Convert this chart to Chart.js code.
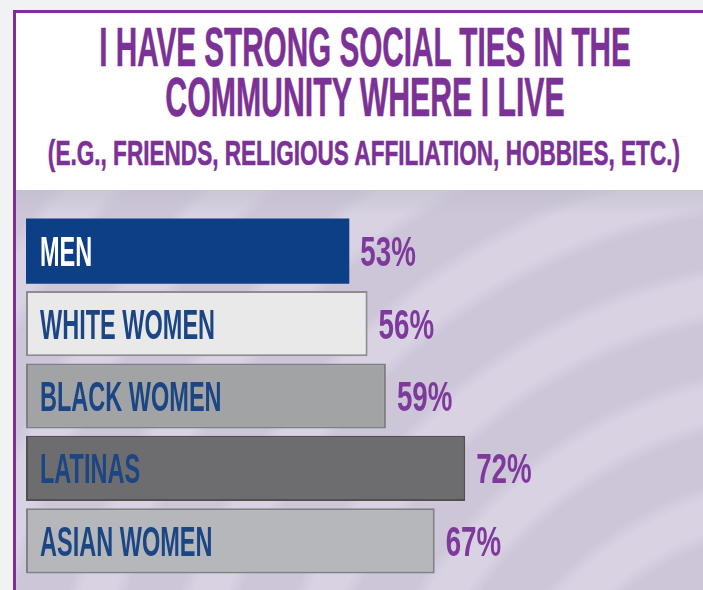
<!DOCTYPE html>
<html>
<head>
<meta charset="utf-8">
<title>Social ties in the community</title>
<script src="https://cdn.jsdelivr.net/npm/chart.js@4.4.1/dist/chart.umd.min.js"></script>
<style>
  html, body { margin: 0; width: 703px; height: 590px; overflow: hidden; background: #f1f2f4; }
  #card {
    position: absolute; left: 13px; top: 10px; width: 700px; height: 590px;
    border-left: 3px solid #7b3196; border-top: 3px solid #7b3196; background: #fff;
  }
  #band {
    position: absolute; left: 16px; top: 190px; width: 700px; height: 400px;
    background:
      linear-gradient(to bottom, rgba(190,188,200,0.55) 0px, rgba(190,188,200,0) 26px),
      repeating-radial-gradient(circle at 800px 640px,
        #d8d2e3 0px, #d8d2e3 30px, #cdc6d9 44px, #cdc6d9 92px, #d8d2e3 106px);
  }
  /* wide centred boxes so the squeezed lines stay centred on x = 365 */
  .head {
    position: absolute; left: -635px; width: 2000px; text-align: center; white-space: nowrap;
    font-family: "Liberation Sans", Arial, sans-serif; font-weight: bold; color: #7b3196;
    -webkit-text-stroke: 0.6px #7b3196;
    transform-origin: 1000px 0;
  }
  #l1 { top: 19px; font-size: 56px; line-height: 56px; transform: scaleX(0.53); }
  #l2 { top: 69px; font-size: 56px; line-height: 56px; transform: scaleX(0.54); }
  #l3 { top: 135px; font-size: 35px; line-height: 35px; transform: scaleX(0.645); transform-origin: 997px 0; }
  #chart { position: absolute; left: 0; top: 0; }
</style>
</head>
<body>
<div id="card"></div>
<div id="band"></div>
<div class="head" id="l1">I HAVE STRONG SOCIAL TIES IN THE</div>
<div class="head" id="l2">COMMUNITY WHERE I LIVE</div>
<div class="head" id="l3">(E.G., FRIENDS, RELIGIOUS AFFILIATION, HOBBIES, ETC.)</div>
<canvas id="chart" width="703" height="590"></canvas>
<script>
// survey groups and share who agree (%)
const groups = ['MEN', 'WHITE WOMEN', 'BLACK WOMEN', 'LATINAS', 'ASIAN WOMEN'];
const shares = [53, 56, 59, 72, 67];

// bar look per group
const fills = ['#0d3f86', '#e9e9ea', '#a2a3a5', '#6d6d6f', '#b5b7ba'];
const edges = ['#0d3f86', '#8d8d90', '#7e7f82', '#505053', '#808184'];
const nameColors = ['#ffffff', '#1b4583', '#1b4583', '#1b4583', '#1b4583'];

// condensed caption text: squeeze Liberation Sans horizontally
function squeezed(ctx, text, x, y, size, sx, color) {
    ctx.save();
    ctx.font = `bold ${size}px "Liberation Sans", Arial, sans-serif`;
    ctx.fillStyle = color;
    ctx.textBaseline = 'alphabetic';
    ctx.translate(x, y);
    ctx.scale(sx, 1);
    ctx.fillText(text, 0, 0);
    ctx.restore();
}

const barLabels = {
    id: 'barLabels',
    afterDatasetsDraw(chart) {
        const ctx = chart.ctx;
        const meta = chart.getDatasetMeta(0);
        meta.data.forEach((bar, i) => {
            squeezed(ctx, groups[i], bar.base + 14, bar.y + 15, 42, 0.56, nameColors[i]);
            squeezed(ctx, shares[i] + '%', bar.x + 11, bar.y + 15, 42, 0.66, '#7d3a9b');
        });
    }
};

new Chart(document.getElementById('chart'), {
    type: 'bar',
    data: {
        labels: groups,
        datasets: [{
            data: shares,
            backgroundColor: fills,
            borderColor: edges,
            borderWidth: [0, 2, 2, 2, 2],
            borderSkipped: false,
            barPercentage: 0.9,
            categoryPercentage: 1.0
        }]
    },
    options: {
        indexAxis: 'y',
        responsive: false,
        devicePixelRatio: 1,
        animation: false,
        layout: { padding: { left: 26, right: 67, top: 215, bottom: 13 } },
        scales: {
            x: { display: false, min: 0, max: 100 },
            y: { display: false }
        },
        plugins: {
            legend: { display: false },
            tooltip: { enabled: false }
        }
    },
    plugins: [barLabels]
});
</script>
</body>
</html>
